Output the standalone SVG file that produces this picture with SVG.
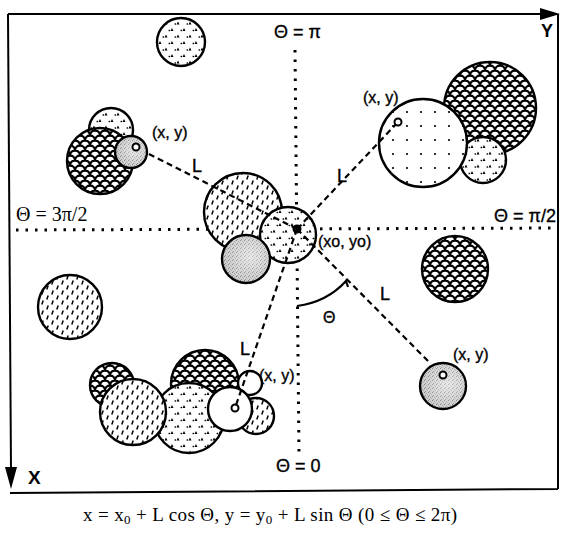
<svg xmlns="http://www.w3.org/2000/svg" width="562" height="533" viewBox="0 0 562 533">
<style>
.c{stroke:#000;stroke-width:2.4}
.pt{fill:#fff;stroke:#000;stroke-width:2}
.lbl{font-family:"Liberation Sans",Arial,sans-serif;font-size:16px;fill:#000;stroke:#000;stroke-width:0.35}
.big{font-family:"Liberation Sans",Arial,sans-serif;font-size:18px;fill:#000;stroke:#000;stroke-width:0.35}
.ser{font-family:"Liberation Serif","Times New Roman",serif;fill:#000}
.conn{stroke:#000;stroke-width:2.2;stroke-dasharray:6 4;fill:none}
.axis{stroke:#000;stroke-width:3;stroke-dasharray:2.5 7;fill:none}
.frame{stroke:#000;stroke-width:2;fill:none}
</style>
<defs>
<pattern id="tri" patternUnits="userSpaceOnUse" width="12" height="13">
<rect width="12" height="13" fill="#fff"/>
<path d="M2.5,5 L4,2 L5.5,5 Z M8.5,11.5 L10,8.5 L11.5,11.5 Z" fill="#000"/>
<rect x="0.6" y="3.8" width="1.4" height="1.4" fill="#000"/>
<rect x="6.6" y="10.3" width="1.4" height="1.4" fill="#000"/>
</pattern>
<pattern id="scales" patternUnits="userSpaceOnUse" width="10" height="10">
<rect width="10" height="10" fill="#fff"/>
<path d="M0,5.5 A5,5 0 0 1 10,5.5 M-5,10.5 A5,5 0 0 1 5,10.5 M5,10.5 A5,5 0 0 1 15,10.5 M-5,0.5 A5,5 0 0 1 5,0.5 M5,0.5 A5,5 0 0 1 15,0.5" fill="none" stroke="#000" stroke-width="2.3"/>
<path d="M5,10 L3.3,7.2 L6.7,7.2 Z M0,5 L-1.7,2.2 L1.7,2.2 Z M10,5 L8.3,2.2 L11.7,2.2 Z" fill="#000"/>
</pattern>
<pattern id="hatch" patternUnits="userSpaceOnUse" width="10" height="10">
<rect width="10" height="10" fill="#fff"/>
<path d="M1.8,4.6 L3.2,0.6 M6.8,9.6 L8.2,5.6" stroke="#000" stroke-width="1.5"/>
</pattern>
<pattern id="gray" patternUnits="userSpaceOnUse" width="4" height="4">
<rect width="4" height="4" fill="#cdcdcd"/>
<rect x="0" y="0" width="1" height="1" fill="#777"/>
<rect x="2" y="1" width="1" height="1" fill="#999"/>
<rect x="1" y="3" width="1" height="1" fill="#888"/>
<rect x="3" y="2" width="1" height="1" fill="#aaa"/>
</pattern>
<radialGradient id="glow" cx="0.6" cy="0.45" r="0.6">
<stop offset="0" stop-color="#fff" stop-opacity="0.55"/>
<stop offset="1" stop-color="#fff" stop-opacity="0"/>
</radialGradient>
<pattern id="dots" patternUnits="userSpaceOnUse" x="400" y="105" width="14" height="14">
<rect width="14" height="14" fill="#fff"/>
<circle cx="7" cy="7" r="1.1" fill="#000"/>
</pattern>
</defs>
<rect width="562" height="533" fill="#fff"/>

<g id="frame">
<path class="frame" d="M8,14 L545,14"/>
<polygon points="540,8 560,14 540,20" fill="#000"/>
<path class="frame" d="M558,14 L558,489 M10,493 L558,489"/>
<path class="frame" d="M8,14 L11,470"/>
<polygon points="5,467 17,467 11,489" fill="#000"/>
<text x="28" y="484" font-family="Liberation Sans,Arial,sans-serif" font-size="19" font-weight="bold">X</text>
<text x="541" y="37" font-family="Liberation Sans,Arial,sans-serif" font-size="18" font-weight="bold">Y</text>
</g>

<g id="axes">
<path class="axis" d="M295,50 L299,455"/>
<path class="axis" d="M16,230 L558,228"/>
<text class="big" x="274" y="38">Θ = π</text>
<text class="ser" x="16" y="221" font-size="20">Θ = 3π/2</text>
<text class="big" x="556" y="222" text-anchor="end">Θ = π/2</text>
<text class="big" x="276" y="472">Θ = 0</text>
</g>

<g id="top-circle"><circle class="c" cx="181" cy="42" r="24" fill="url(#tri)"/></g>

<g id="cluster-upper-left">
<circle class="c" cx="111" cy="130" r="22" fill="url(#tri)"/>
<circle class="c" cx="100" cy="161" r="33" fill="url(#scales)"/>
<circle class="c" cx="131" cy="152" r="16" fill="url(#gray)"/>
<circle cx="131" cy="152" r="15" fill="url(#glow)"/>
<circle class="pt" cx="136" cy="147" r="3.5"/>
</g>

<g id="cluster-upper-right">
<circle class="c" cx="490" cy="108" r="46" fill="url(#scales)"/>
<circle class="c" cx="483" cy="160" r="23" fill="url(#tri)"/>
<circle class="c" cx="423" cy="143" r="44" fill="url(#dots)"/>
</g>

<g id="center-cluster">
<circle class="c" cx="243" cy="212" r="39" fill="url(#hatch)"/>
<circle class="c" cx="288" cy="235" r="28" fill="url(#tri)"/>
<circle class="c" cx="246" cy="259" r="24" fill="url(#gray)"/>
<circle cx="246" cy="259" r="23" fill="url(#glow)"/>
</g>

<g id="left-circle"><circle class="c" cx="70" cy="307" r="32" fill="url(#hatch)"/></g>
<g id="right-circle"><circle class="c" cx="455" cy="269" r="33" fill="url(#scales)"/></g>

<g id="lower-right-circle">
<circle class="c" cx="443" cy="386" r="23" fill="url(#gray)"/>
<circle cx="443" cy="386" r="22" fill="url(#glow)"/>
</g>

<g id="cluster-bottom">
<circle class="c" cx="112" cy="385" r="22" fill="url(#scales)"/>
<circle class="c" cx="205" cy="384" r="34" fill="url(#scales)"/>
<circle class="c" cx="189" cy="418" r="35" fill="url(#tri)"/>
<circle class="c" cx="133" cy="412" r="33" fill="url(#hatch)"/>
<circle class="c" cx="250" cy="383" r="12" fill="#fff"/>
<circle class="c" cx="256" cy="416" r="18" fill="url(#hatch)"/>
<circle class="c" cx="230" cy="409" r="22" fill="#fff"/>
</g>

<g id="connectors">
<path class="conn" d="M297,229 L147,153"/>
<path class="conn" d="M297,229 L398,122"/>
<path class="conn" d="M297,229 L429,362"/>
<path class="conn" d="M297,229 L235,408"/>
<path d="M297,306 Q327,302 346,281 L348,287" fill="none" stroke="#000" stroke-width="2.2"/>
</g>

<g id="points">
<circle class="pt" cx="398" cy="122" r="3.5"/>
<circle class="pt" cx="443" cy="375" r="3.5"/>
<circle class="pt" cx="235" cy="408" r="3.5"/>
<circle cx="297" cy="229" r="4.5" fill="#000"/>
</g>

<g id="labels">
<text class="lbl" x="152" y="138">(x, y)</text>
<text class="lbl" x="363" y="103">(x, y)</text>
<text class="lbl" x="453" y="360">(x, y)</text>
<text class="lbl" x="259" y="381">(x, y)</text>
<text class="lbl" x="318" y="247">(xo, yo)</text>
<text class="big" x="192" y="172">L</text>
<text class="big" x="337" y="182">L</text>
<text class="big" x="380" y="300">L</text>
<text class="big" x="240" y="355">L</text>
<text class="lbl" x="323" y="323">Θ</text>
</g>

<text class="ser" x="83" y="521" font-size="19" textLength="374" lengthAdjust="spacing">x = x<tspan font-size="13" dy="3">0</tspan><tspan dy="-3"> + L cos Θ, y = y</tspan><tspan font-size="13" dy="3">0</tspan><tspan dy="-3"> + L sin Θ  (0 ≤ Θ ≤ 2π)</tspan></text>
</svg>
